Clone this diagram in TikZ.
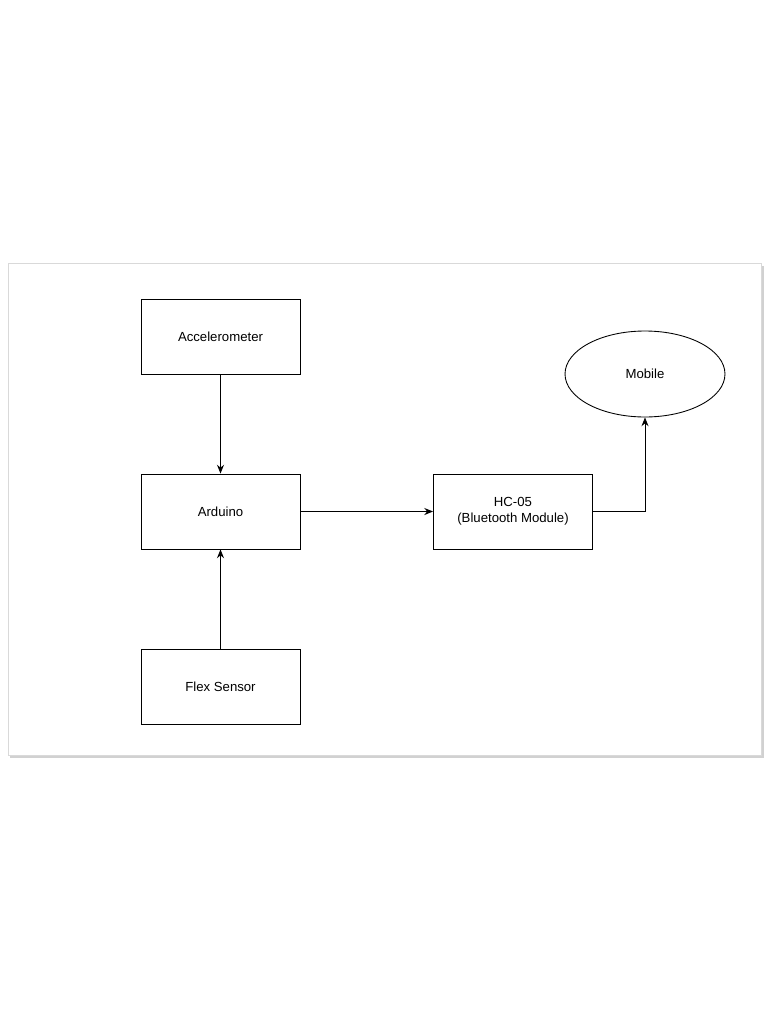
\documentclass[tikz,border=0pt]{standalone}
\usepackage{fontspec}
\setmainfont{Liberation Sans}
\usetikzlibrary{shapes.geometric,arrows.meta,positioning}
\begin{document}
\begin{tikzpicture}[x=0.02cm,y=-0.02cm,
    block/.style={draw, line width=0.5pt, minimum width=3.18cm, minimum height=1.5cm, align=center, font=\fontsize{7.5}{9}\selectfont},
    link/.style={-{Stealth[length=5pt,width=4pt]}, line width=0.5pt}]
        % page and frame
        \useasboundingbox (0,0) rectangle (768,1024);
        \fill[black!18] (10,266) rectangle (764,758);
        \filldraw[fill=white, draw=black!15] (8,263) rectangle (761,755);

        % blocks
        \node[block] (acc) at (220.5,336.5) {Accelerometer};
        \node[block] (ard) at (220.5,511.5) {Arduino};
        \node[block] (flex) at (220.5,686.5) {Flex Sensor};
        \node[block] (hc) at (513,511.5) {HC-05\\(Bluetooth Module)};
        \node[block, ellipse, minimum width=3.2cm, minimum height=1.72cm] (mob) at (645,374) {Mobile};

        % connectors
        \draw[link] (acc) -- (ard);
        \draw[link] (flex) -- (ard);
        \draw[link] (ard) -- (hc);
        \draw[link] (hc.east) -| (mob.south);
    \end{tikzpicture}
\end{document}
